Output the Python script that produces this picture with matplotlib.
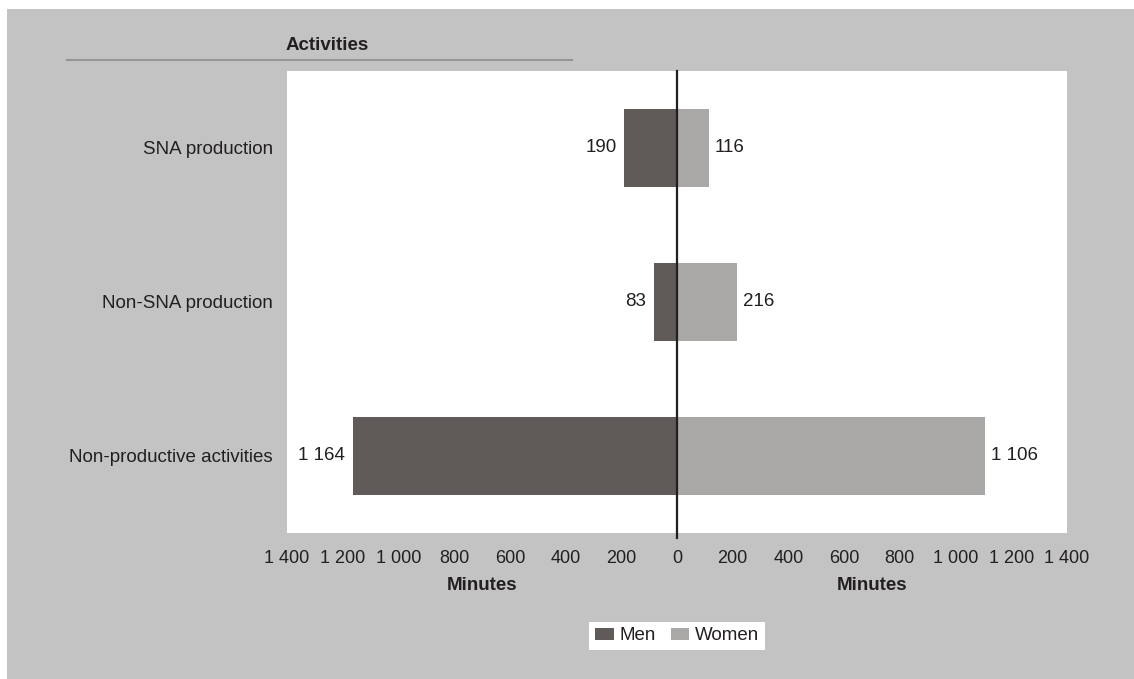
import matplotlib.pyplot as plt
import matplotlib.patches as mpatches
from matplotlib.lines import Line2D
from matplotlib.ticker import FuncFormatter

plt.rcParams['font.family'] = ['Liberation Sans', 'DejaVu Sans']

activities = ['SNA production', 'Non-SNA production', 'Non-productive activities']
men = [190, 83, 1164]
women = [116, 216, 1106]
ticks = [-1400, -1200, -1000, -800, -600, -400, -200, 0, 200, 400, 600, 800, 1000, 1200, 1400]

men_color = '#605b58'
women_color = '#a9a8a6'
bg_color = '#c3c3c3'
text_color = '#231f20'
fs = 13.5

W, H = 1134, 679
fig = plt.figure(figsize=(W / 100, H / 100), dpi=100)
fig.patch.set_facecolor('white')

# grey panel behind everything, leaving a thin white strip on the left and top
fig.patches.append(mpatches.Rectangle((7 / W, 0), 1, 1 - 9 / H, transform=fig.transFigure,
                                      facecolor=bg_color, edgecolor='none', zorder=-10))

ax = fig.add_axes([287 / W, 1 - 533 / H, 780 / W, 462 / H])
ax.set_facecolor('white')

def thousands(v):
    return f'{int(abs(v)):,}'.replace(',', ' ')

ypos = list(range(len(activities)))
ax.barh(ypos, [-m for m in men], height=0.505, color=men_color, label='Men', zorder=2)
ax.barh(ypos, women, height=0.505, color=women_color, label='Women', zorder=2)

for y, m, w in zip(ypos, men, women):
    ax.annotate(thousands(m), (-m, y), xytext=(-5.5, 0), textcoords='offset points',
                ha='right', va='center', fontsize=fs, color=text_color)
    ax.annotate(thousands(w), (w, y), xytext=(4, 0), textcoords='offset points',
                ha='left', va='center', fontsize=fs, color=text_color)

ax.axvline(0, color=text_color, lw=1.6, zorder=3, ymin=-0.01, clip_on=False)

ax.set_xlim(-1400, 1400)
ax.set_ylim(len(activities) - 0.5, -0.5)
ax.set_xticks(ticks)
ax.xaxis.set_major_formatter(FuncFormatter(lambda v, p: thousands(v)))
ax.set_yticks(ypos)
ax.set_yticklabels(activities)
ax.tick_params(axis='x', length=0, pad=12, labelsize=13, labelcolor=text_color)
ax.tick_params(axis='y', length=0, pad=10, labelsize=fs, labelcolor=text_color)
for s in ax.spines.values():
    s.set_visible(False)

fig.text(482 / W, 1 - 586 / H, 'Minutes', ha='center', va='center',
         fontsize=fs, fontweight='bold', color=text_color)
fig.text(872 / W, 1 - 586 / H, 'Minutes', ha='center', va='center',
         fontsize=fs, fontweight='bold', color=text_color)

# column header with its rule
fig.text(327 / W, 1 - 45 / H, 'Activities', ha='center', va='center',
         fontsize=fs, fontweight='bold', color=text_color)
fig.add_artist(Line2D([67 / W, 572 / W], [1 - 60 / H, 1 - 60 / H], transform=fig.transFigure,
                      color='#959595', lw=1.5))

leg = fig.legend(loc='center', bbox_to_anchor=(677 / W, 1 - 636 / H), ncol=2,
                 frameon=True, fancybox=False, fontsize=fs, handlelength=1.0,
                 handleheight=0.6, handletextpad=0.3, columnspacing=0.8,
                 borderpad=0.3, borderaxespad=0)
leg.get_frame().set_facecolor('white')
leg.get_frame().set_edgecolor('none')
leg.get_frame().set_alpha(1)
for t in leg.get_texts():
    t.set_color(text_color)

fig.savefig('out.png', dpi=100, facecolor=fig.get_facecolor())
